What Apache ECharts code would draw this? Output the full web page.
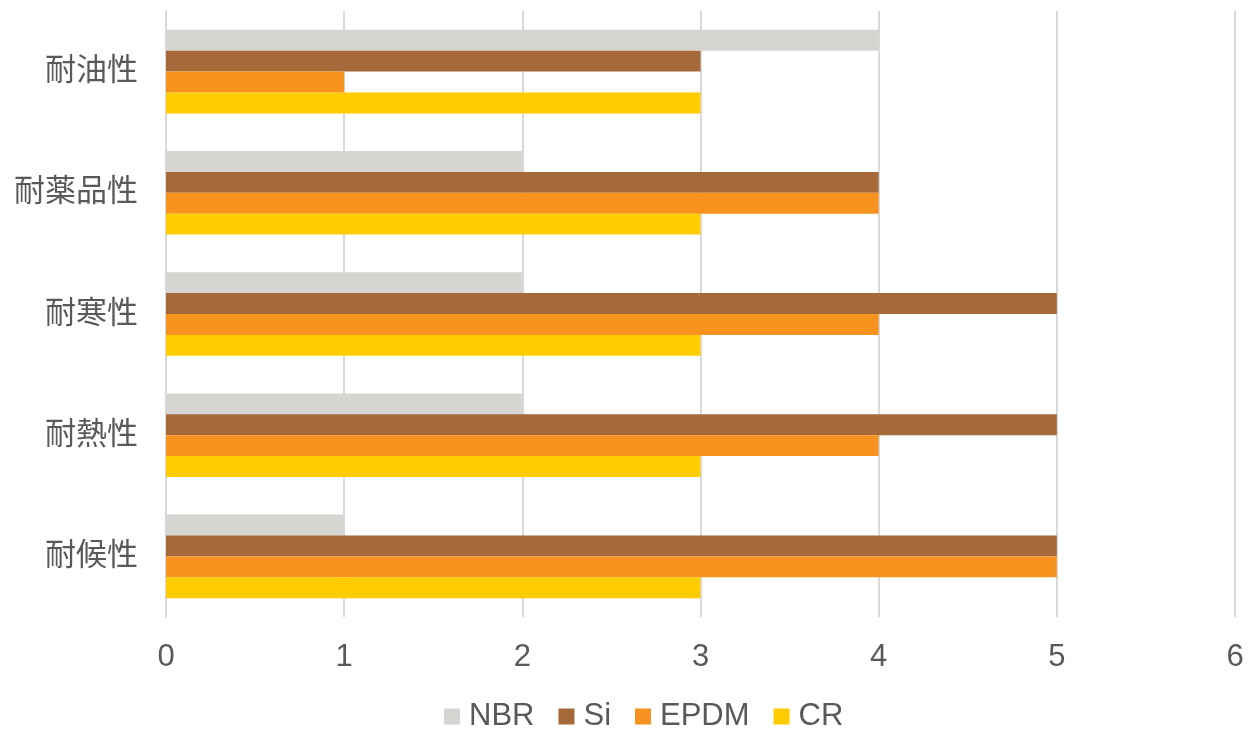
<!DOCTYPE html>
<html><head><meta charset="utf-8">
<script src="https://cdn.jsdelivr.net/npm/echarts@6/dist/echarts.min.js"></script>
<style>html,body{margin:0;padding:0;background:#fff;}#c{width:1249px;height:729px;}</style>
</head><body><div id="c"></div>
<script>
const categories = ['耐油性', '耐薬品性', '耐寒性', '耐熱性', '耐候性'];
const seriesNames = ['NBR', 'Si', 'EPDM', 'CR'];
const nbr = [4, 2, 2, 2, 1];
const si = [3, 4, 5, 5, 5];
const epdm = [1, 4, 4, 4, 5];
const cr = [3, 3, 3, 3, 3];
const xTicks = [0, 1, 2, 3, 4, 5, 6];
const colors = ['#D6D5D1', '#A5693A', '#F7931E', '#FFCC00'];

const font = '"Liberation Sans", Arial, "Noto Sans CJK JP", sans-serif';
const values = [nbr, si, epdm, cr];
const chart = echarts.init(document.getElementById('c'));
chart.setOption({
  animation: false,
  textStyle: { fontFamily: font },
  grid: { left: 166, right: 14, top: 11, bottom: 112, containLabel: false },
  legend: {
    data: seriesNames,
    left: 439,
    itemWidth: 16, itemHeight: 16, itemGap: 24,
    icon: 'rect',
    textStyle: { fontSize: 31, color: '#595959', fontFamily: font, padding: [0, 0, 0, 4] },
    top: 696
  },
  xAxis: {
    type: 'value', min: xTicks[0], max: xTicks[xTicks.length - 1], interval: 1,
    axisLine: { show: false }, axisTick: { show: false },
    splitLine: { lineStyle: { color: '#D9D9D9', width: 2 } },
    axisLabel: { fontSize: 31, color: '#595959', margin: 25, fontFamily: font }
  },
  yAxis: {
    type: 'category', data: categories, inverse: true,
    axisLine: { show: true, lineStyle: { color: '#D9D9D9', width: 2 } },
    axisTick: { show: false },
    axisLabel: { fontSize: 31, color: '#595959', margin: 28, fontFamily: font }
  },
  series: seriesNames.map((n, i) => ({
    name: n, type: 'bar', data: values[i],
    barGap: '0%', barCategoryGap: '31%',
    itemStyle: { color: colors[i] }
  }))
});
</script></body></html>
